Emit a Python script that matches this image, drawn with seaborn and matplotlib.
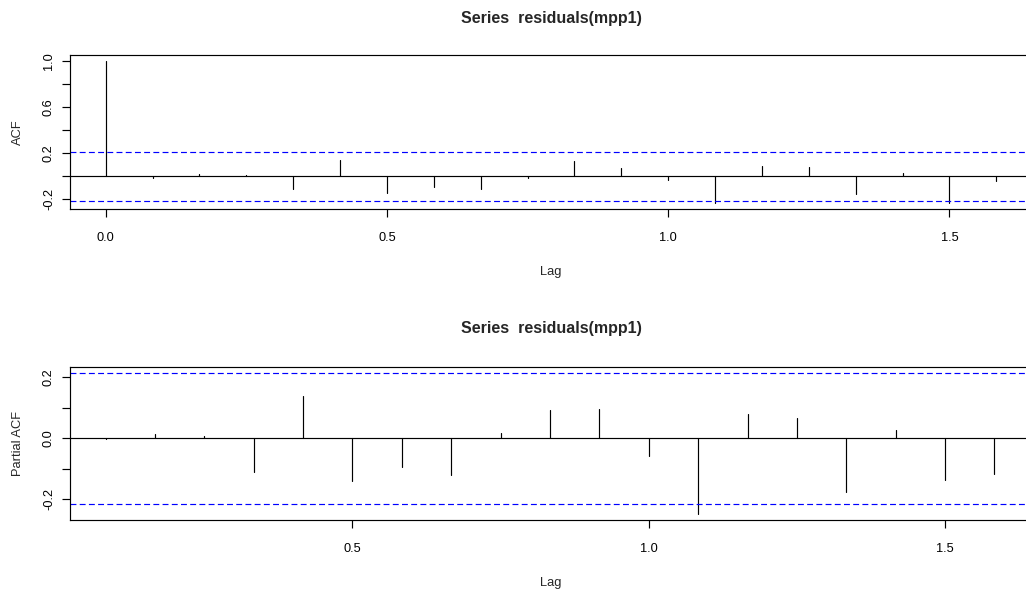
import numpy as np
import pandas as pd
import matplotlib
matplotlib.use("Agg")
import matplotlib.pyplot as plt
import seaborn as sns

# ---- data ----
freq = 12
acf_lag_months = [0, 1, 2, 3, 4, 5, 6, 7, 8, 9, 10, 11, 12, 13, 14, 15, 16, 17, 18, 19]
acf_values = [1.0, -0.012, 0.017, 0.009, -0.113, 0.142, -0.147, -0.095, -0.113, -0.012,
              0.133, 0.069, -0.035, -0.234, 0.087, 0.078, -0.156, 0.032, -0.234, -0.043]
pacf_lag_months = [1, 2, 3, 4, 5, 6, 7, 8, 9, 10, 11, 12, 13, 14, 15, 16, 17, 18, 19]
pacf_values = [-0.002, 0.014, 0.007, -0.110, 0.139, -0.140, -0.093, -0.122, 0.017, 0.092,
               0.095, -0.057, -0.249, 0.080, 0.066, -0.176, 0.027, -0.138, -0.116]
conf_limit = 0.214
title_text = "Series  residuals(mpp1)"
acf_xticks = [0.0, 0.5, 1.0, 1.5]
pacf_xticks = [0.5, 1.0, 1.5]
acf_yticks = [-0.2, 0.0, 0.2, 0.4, 0.6, 0.8, 1.0]
acf_ylabels = ["-0.2", "", "0.2", "", "0.6", "", "1.0"]
pacf_yticks = [-0.2, -0.1, 0.0, 0.1, 0.2]
pacf_ylabels = ["-0.2", "", "0.0", "", "0.2"]

sns.set_style("white")
plt.rcParams["font.family"] = ["Liberation Sans", "DejaVu Sans"]

W, H = 1026, 594
fig = plt.figure(figsize=(W / 100, H / 100), dpi=100)


def px_axes(left, right, top, bottom):
    return fig.add_axes([left / W, 1 - bottom / H, (right - left) / W, (bottom - top) / H])


def stems(ax, lags, vals):
    rows = []
    for l, v in zip(lags, vals):
        rows.append({"lag": l, "val": 0.0, "id": l})
        rows.append({"lag": l, "val": v, "id": l})
    df = pd.DataFrame(rows)
    sns.lineplot(data=df, x="lag", y="val", units="id", estimator=None,
                 color="black", linewidth=0.85, ax=ax, legend=False, sort=False)


def style(ax, lags, vals, xticks, yticks, ylabels):
    ax.axhline(0, color="black", lw=0.85)
    for c in (conf_limit, -conf_limit):
        ax.axhline(c, color="#0000ff", lw=0.85, linestyle=(0, (5.0, 2.8)))
    ax.set_xticks(xticks)
    ax.set_xticklabels([f"{t:.1f}" for t in xticks])
    ax.set_yticks(yticks)
    ax.set_yticklabels(ylabels, rotation=90, va="center")
    lo = min(min(vals), -conf_limit)
    hi = max(max(vals), conf_limit)
    r = hi - lo
    ax.set_ylim(lo - 0.04 * r, hi + 0.04 * r)
    xr = max(lags) - min(lags)
    ax.set_xlim(min(lags) - 0.04 * xr, max(lags) + 0.04 * xr)
    ax.tick_params(axis="both", direction="out", length=5.8, width=0.85,
                   labelsize=9.2, color="black", labelcolor="black",
                   bottom=True, left=True, top=False, right=False)
    ax.tick_params(axis="x", pad=11)
    ax.tick_params(axis="y", pad=5)
    ax.set_xlabel("")
    ax.set_ylabel("")
    for s in ax.spines.values():
        s.set_color("black")
        s.set_linewidth(0.85)
        s.set_visible(True)
    ax.grid(False)


ax1 = px_axes(70, 1032, 55, 209)
acf_lags = [m / freq for m in acf_lag_months]
stems(ax1, acf_lags, acf_values)
style(ax1, acf_lags, acf_values, acf_xticks, acf_yticks, acf_ylabels)

ax2 = px_axes(70, 1030, 367, 520)
pacf_lags = [m / freq for m in pacf_lag_months]
stems(ax2, pacf_lags, pacf_values)
style(ax2, pacf_lags, pacf_values, pacf_xticks, pacf_yticks, pacf_ylabels)

fig.text(551 / W, 1 - 18 / H, title_text, ha="center", va="center",
         fontsize=11.5, fontweight="bold")
fig.text(551 / W, 1 - 328 / H, title_text, ha="center", va="center",
         fontsize=11.5, fontweight="bold")
fig.text(551 / W, 1 - 272 / H, "Lag", ha="center", va="center", fontsize=9.3)
fig.text(551 / W, 1 - 583 / H, "Lag", ha="center", va="center", fontsize=9.3)
fig.text(18 / W, 1 - 132 / H, "ACF", ha="center", va="center", rotation=90, fontsize=9.3)
fig.text(18 / W, 1 - 444 / H, "Partial ACF", ha="center", va="center", rotation=90, fontsize=9.3)

fig.savefig("out.png", dpi=100, facecolor="white")
